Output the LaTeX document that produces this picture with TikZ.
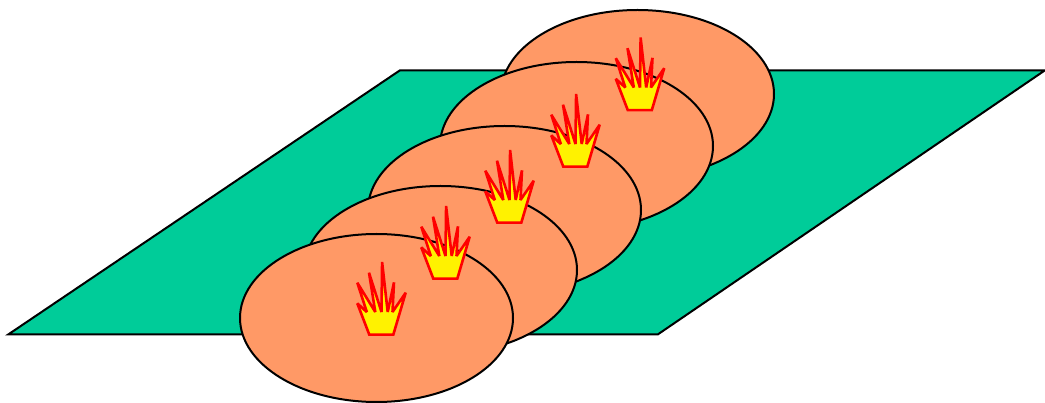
\documentclass[tikz,border=0pt]{standalone}
\definecolor{platecol}{RGB}{0,204,153}
\definecolor{blobcol}{RGB}{255,153,102}
\tikzset{
  plane/.style={draw=black,fill=platecol,line width=2pt,line join=miter},
  blob/.style={draw=black,fill=blobcol,line width=2pt},
  flame/.style={draw=red,fill=yellow,line width=2.6pt,line join=miter,miter limit=3}
}
\newcommand{\flameat}[2]{%
  \draw[flame,shift={(#1,#2)}] (-12.2,40.7) -- (-24.2,9.4) -- (-14.7,18) -- (-24.2,-11.3) -- (-6.2,18) -- (-12.5,-21.3) -- (0,18) -- (0.6,-32) -- (6.2,18) -- (12.5,-11.6) -- (11,18) -- (24.2,-1.3) -- (11.8,40.7) -- cycle;}
\begin{document}
\begin{tikzpicture}[x=1pt,y=-1pt]
\useasboundingbox (0,0) rectangle (1045,403);
\draw[plane] (8.5,334.3) -- (658,334.3) -- (1045,70.3) -- (400,70.3) -- cycle;
\draw[blob] (637.5,94) ellipse [x radius=136.5,y radius=84];
\draw[blob] (576.5,146) ellipse [x radius=136.5,y radius=84];
\draw[blob] (504.5,210) ellipse [x radius=136.5,y radius=84];
\draw[blob] (440.5,270) ellipse [x radius=136.5,y radius=84];
\draw[blob] (376.5,318) ellipse [x radius=136.5,y radius=84];
\flameat{381.5}{294}
\flameat{445.5}{238}
\flameat{509.5}{182}
\flameat{575.5}{126}
\flameat{640}{69.5}
\end{tikzpicture}
\end{document}
